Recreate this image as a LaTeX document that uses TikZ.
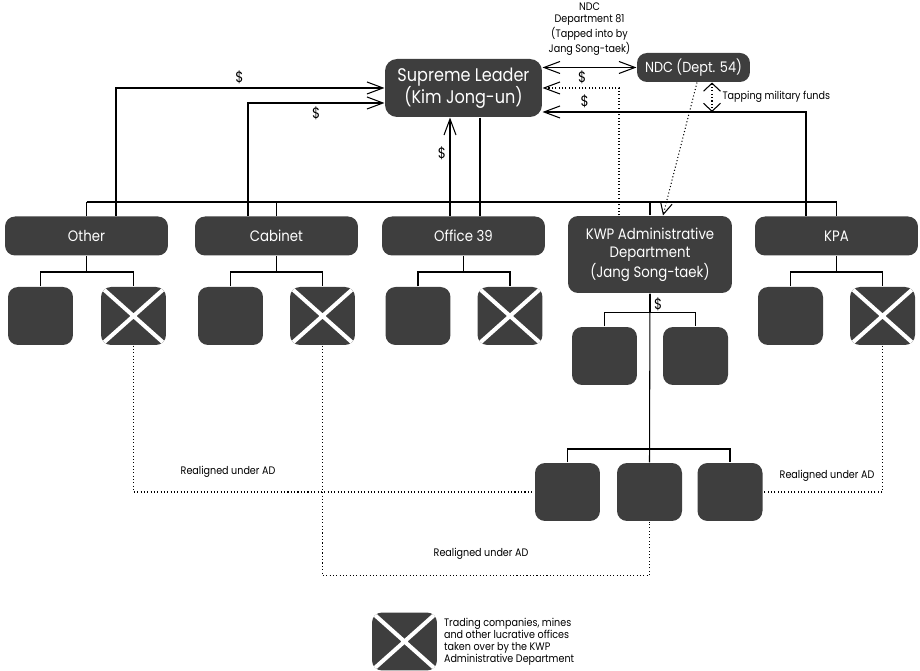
\documentclass[tikz,border=0pt]{standalone}
\usepackage{fontspec}
\setmainfont{Poppins}[FakeStretch=0.88]
\usetikzlibrary{arrows.meta}
\definecolor{boxgrey}{HTML}{3E3E3E}
\tikzset{
	box/.style={fill=boxgrey, text=white, rounded corners=0.2cm, inner sep=0pt, align=center},
	dept/.style={box, minimum width=3.26cm, minimum height=0.78cm, font=\fontsize{8.6}{10.2}\selectfont},
	sq/.style={box, minimum width=1.3cm, minimum height=1.16cm},
	crossed/.style={sq, path picture={\draw[white, line width=2.3pt]
		(path picture bounding box.north west) -- (path picture bounding box.south east)
		(path picture bounding box.south west) -- (path picture bounding box.north east);}},
	lbl/.style={font=\fontsize{6.2}{6.9}\selectfont, inner sep=0pt},
	cash/.style={font=\fontsize{8.5}{9}\selectfont, inner sep=2pt},
	money/.style={-{Straight Barb[length=3.2mm, width=2.4mm]}},
	realign/.style={dash pattern=on 0.6pt off 1.3pt},
}
\begin{document}
\begin{tikzpicture}[x=0.02cm, y=-0.02cm, line width=0.6pt]
	\useasboundingbox (0,0) rectangle (920,671);
	\node (sl) [box, rounded corners=0.24cm, minimum width=3.14cm, minimum height=1.16cm, font=\fontsize{10.4}{12.7}\selectfont] at (463.5,88) {Supreme Leader\\(Kim Jong-un)};
	\node (ndc) [box, minimum width=2.26cm, minimum height=0.58cm, font=\fontsize{8.3}{9}\selectfont] at (693.5,67.5) {NDC (Dept. 54)};
	\node (other) [dept] at (86.5,236) {Other};
	\node (cab) [dept] at (276.5,236) {Cabinet};
	\node (off) [dept] at (463.5,236) {Office 39};
	\node (kwp) [dept, minimum width=3.28cm, minimum height=1.54cm] at (650,254.5) {KWP Administrative\\Department\\(Jang Song-taek)};
	\node (kpa) [dept] at (836.5,236) {KPA};
	% offices under each branch
	\node (o1) [sq] at (40.5,316) {};
	\node (o2) [crossed] at (133.5,316) {};
	\node (c1) [sq] at (230.5,316) {};
	\node (c2) [crossed] at (322.5,316) {};
	\node (f1) [sq] at (418,316) {};
	\node (f2) [crossed] at (510,316) {};
	\node (k1) [sq] at (790.5,316) {};
	\node (k2) [crossed] at (882.5,316) {};
	\node (w1) [sq] at (604.5,356) {};
	\node (w2) [sq] at (695.5,356) {};
	\node (l1) [sq] at (567.5,492) {};
	\node (l2) [sq] at (649.5,492) {};
	\node (l3) [sq] at (730,492) {};
	% tree lines
	\coordinate (bus) at (0,202);
	\draw (other.north |- bus) -- (kpa.north |- bus);
	\foreach \n in {other,cab,kwp,kpa}
		\draw (\n.north) -- (\n.north |- bus);
	\draw ([xshift=0.33cm]sl.south) -- ([xshift=0.33cm]off.north);
	\foreach \n/\a/\b/\d in {other/o1/o2/16, cab/c1/c2/16, off/f1/f2/16, kpa/k1/k2/16, kwp/w1/w2/19} {
		\draw (\n.south) -- ++(0,\d) coordinate (j);
		\draw (\a.north) |- (j) -| (\b.north);
	}
	\draw (kwp.south) -- (l2.north) node[pos=0.065, right, cash] {\$};
	\coordinate (lj) at (649.5,449);
	\draw (l1.north) |- (lj) -| (l3.north);
	% money flows
	\draw[money] ([xshift=0.59cm]other.north) |- (sl.west) node[pos=0.73, above, cash] {\$};
	\draw[money] ([xshift=-0.57cm]cab.north) |- ([yshift=-0.3cm]sl.west) node[pos=0.75, below, cash] {\$};
	\draw[money] ([xshift=-0.27cm]off.north) -- ([xshift=-0.27cm]sl.south) node[pos=0.64, left, cash] {\$};
	\draw[{Straight Barb[length=3.2mm, width=2.4mm]}-{Straight Barb[length=3.2mm, width=2.4mm]}] (sl.east |- ndc.west) -- (ndc.west)
		node[midway, above=0.24cm, lbl, align=center] {NDC\\Department 81\\(Tapped into by\\Jang Song-taek)};
	\draw[money, realign] ([xshift=-0.62cm]kwp.north) |- (sl.east) node[pos=0.74, above, cash] {\$};
	\draw[money] ([xshift=-0.61cm]kpa.north) |- ([yshift=-0.48cm]sl.east) node[pos=0.92, above, cash] {\$};
	\coordinate (tap) at (712,112);
	\draw[realign, {Straight Barb[length=1.6mm, width=3.4mm]}-{Straight Barb[length=1.6mm, width=3.4mm]}] (ndc.south -| tap) -- (tap)
		node[midway, right=0.2cm, lbl] {Tapping military funds};
	\draw[realign, -{Straight Barb[length=2.4mm, width=2.4mm]}] ([xshift=0.07cm]ndc.south) -- ([xshift=0.26cm]kwp.north);
	% realigned offices
	\draw[realign] (o2.south) |- (l1.west);
	\draw[realign] (c2.south) -- ++(0,230) -| (l2.south);
	\draw[realign] (k2.south) |- (l3.east);
	\node (r1) [lbl] at (228,472) {Realigned under AD};
	\node (r2) [lbl] at (481,554) {Realigned under AD};
	\node (r3) [lbl] at (827,476) {Realigned under AD};
	% key
	\node (key) [crossed] at (404.5,641.5) {};
	\node (keytext) [lbl, anchor=west, align=left] at ([xshift=0.12cm]key.east) {Trading companies, mines\\and other lucrative offices\\taken over by the KWP\\Administrative Department};
\end{tikzpicture}
\end{document}
